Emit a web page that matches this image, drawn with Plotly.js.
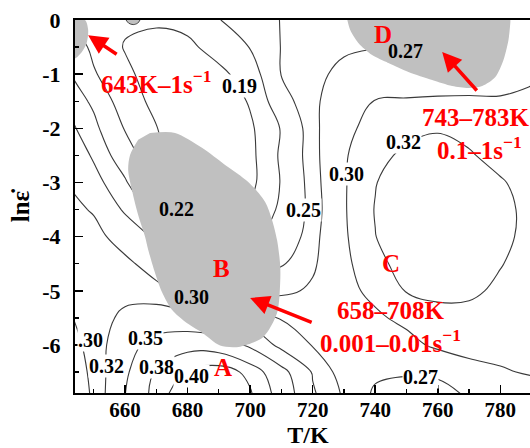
<!DOCTYPE html>
<html><head><meta charset="utf-8">
<script src="https://cdn.plot.ly/plotly-3.0.1.min.js"></script>
<style>html,body{margin:0;padding:0;overflow:hidden;background:#fff}#chart{width:545px;height:448px}</style>
</head><body><div id="chart"></div>
<script>
// ---- data ----
const temps = [640,650,660,670,680,690,700,710,720,730,740,750,760,770,780,790,800];
const lnRates = [0,-0.5,-1,-1.5,-2,-2.5,-3,-3.5,-4,-4.5,-5,-5.5,-6,-6.5,-6.9];
const efficiency = [
 [0.223,0.207,0.195,0.195,0.200,0.219,0.235,0.251,0.255,0.258,0.259,0.260,0.262,0.265,0.269,0.278,0.286],
 [0.248,0.213,0.188,0.178,0.183,0.203,0.221,0.251,0.258,0.266,0.269,0.2698,0.271,0.276,0.283,0.288,0.295],
 [0.260,0.223,0.197,0.175,0.168,0.182,0.205,0.251,0.263,0.277,0.284,0.286,0.287,0.289,0.292,0.297,0.301],
 [0.271,0.245,0.203,0.183,0.168,0.168,0.193,0.240,0.265,0.286,0.301,0.302,0.303,0.303,0.302,0.304,0.306],
 [0.280,0.257,0.218,0.191,0.170,0.165,0.185,0.222,0.263,0.295,0.307,0.313,0.318,0.314,0.309,0.306,0.305],
 [0.292,0.267,0.236,0.197,0.172,0.165,0.182,0.225,0.262,0.298,0.313,0.325,0.329,0.322,0.313,0.308,0.306],
 [0.303,0.278,0.253,0.215,0.183,0.170,0.182,0.222,0.260,0.298,0.319,0.334,0.338,0.334,0.322,0.312,0.307],
 [0.308,0.298,0.266,0.243,0.216,0.200,0.198,0.225,0.258,0.298,0.321,0.336,0.341,0.338,0.326,0.314,0.307],
 [0.312,0.307,0.290,0.265,0.247,0.218,0.216,0.230,0.262,0.297,0.3195,0.335,0.339,0.336,0.325,0.314,0.307],
 [0.312,0.313,0.305,0.290,0.271,0.255,0.245,0.248,0.266,0.295,0.314,0.328,0.334,0.331,0.321,0.312,0.306],
 [0.302,0.310,0.313,0.306,0.293,0.281,0.267,0.264,0.274,0.293,0.306,0.321,0.325,0.324,0.316,0.310,0.306],
 [0.295,0.310,0.325,0.334,0.328,0.315,0.308,0.299,0.290,0.286,0.296,0.306,0.313,0.313,0.310,0.308,0.305],
 [0.290,0.306,0.340,0.360,0.372,0.368,0.345,0.312,0.299,0.286,0.281,0.292,0.305,0.308,0.307,0.306,0.305],
 [0.285,0.304,0.345,0.383,0.402,0.410,0.395,0.360,0.318,0.290,0.276,0.273,0.274,0.292,0.298,0.302,0.303],
 [0.280,0.303,0.3495,0.390,0.415,0.425,0.402,0.370,0.323,0.297,0.265,0.258,0.262,0.273,0.283,0.290,0.295]
];
const levels = [0.19,0.22,0.25,0.27,0.30,0.32,0.35,0.38,0.40];

// instability (grey) domains
const regionA_T = [643,647.2,648.2,647.8,646.2,644.3,643];
const regionA_lnE = [0,0,-0.18,-0.41,-0.59,-0.70,-0.72];
const regionB_T = [668.0,676.0,684.6,692.0,699.4,704.8,707.0,708.6,709.6,709.6,708.6,704.2,696.8,690.4,684.6,679.2,675.0,671.8,669.6,667.4,666.4,664.2,662.2,661.0,661.6,664.2];
const regionB_lnE = [-2.085,-2.085,-2.36,-2.675,-2.99,-3.36,-3.69,-4.06,-4.52,-4.85,-5.41,-5.85,-6.03,-6.01,-5.77,-5.57,-5.35,-5.02,-4.67,-4.24,-4.00,-3.60,-3.14,-2.77,-2.49,-2.21];
const regionD_T = [731.0,732.0,734.6,739.0,744.2,750.6,758.2,764.6,769.8,774.2,778.4,781.0,782.6,783.2,783.2];
const regionD_lnE = [0.02,-0.185,-0.424,-0.646,-0.793,-0.959,-1.107,-1.218,-1.255,-1.218,-1.052,-0.738,-0.369,-0.037,0.02];
const regionTop_T = [660.2,661.2,662.6,664.0,664.9];
const regionTop_lnE = [0.01,-0.06,-0.085,-0.06,0.01];

// contour value labels
const labelText = ['0.19','0.22','0.25','0.27','0.30','0.32','0.30','.30','0.32','0.35','0.38','0.40','0.27'];
const labelT =    [696.5, 676.6, 717.0, 749.6, 730.7, 749.0, 681.4, 648.8, 654.2, 666.4, 670.2, 681.4, 754.4];
const labelLnE =  [-1.22, -3.49, -3.50, -0.57, -2.84, -2.25, -5.11, -5.90, -6.38, -5.87, -6.40, -6.57, -6.59];
const labelBg =   ['#fff','#c0c0c0','#fff','#c0c0c0','#fff','#fff','#c0c0c0','#fff','#fff','#fff','#fff','#fff','#fff'];

// red annotations
const noteText = ['643K\u20131s<sup>\u22121</sup>','D','743\u2013783K','0.1\u20131s<sup>\u22121</sup>','B','C','A','658\u2013708K','0.001\u20130.01s<sup>\u22121</sup>'];
const noteT =    [669.9, 742.6, 772.3, 773.3, 691.0, 745.0, 691.4, 745.1, 744.8];
const noteLnE =  [-1.14, -0.26, -1.80, -2.37, -4.59, -4.50, -6.42, -5.36, -5.93];
const arrowHeadT = [648.2, 761.4, 700.0];
const arrowHeadLnE = [-0.28, -0.59, -5.13];
const arrowTailDx = [30, 36, 63];
const arrowTailDy = [20, 40, 25];

const xTicks = [660,680,700,720,740,760,780];
const xMinor = [650,670,690,710,730,750,770,790];
const yTicks = [0,-1,-2,-3,-4,-5,-6];
const yTickText = ['0','-1','-2','-3','-4','-5','-6'];
const yMinor = [-0.5,-1.5,-2.5,-3.5,-4.5,-5.5,-6.5];

// ---- build ----
const FONT = 'Liberation Serif, Times New Roman, serif';
const GREY = '#c0c0c0';
const traces = [];
function region(xs, ys, outline){
  traces.push({type:'scatter', x:xs, y:ys, mode:'lines', fill:'toself', fillcolor:GREY,
    line:{width: outline?1:0, color: outline?'#444':GREY, shape:'spline', smoothing:0.8},
    hoverinfo:'skip', showlegend:false});
}
region(regionA_T, regionA_lnE, false);
region(regionB_T, regionB_lnE, false);
region(regionD_T, regionD_lnE, false);
region(regionTop_T, regionTop_lnE, true);

levels.forEach(L => {
  traces.push({type:'contour', x:temps, y:lnRates, z:efficiency, autocontour:false,
    contours:{start:L, end:L+0.0001, size:1, coloring:'none', showlabels:false},
    line:{color:'#3a3a3a', width:1.1, smoothing:1.1},
    showscale:false, hoverinfo:'skip'});
});

const annotations = [];
labelText.forEach((t,i) => annotations.push({x:labelT[i], y:labelLnE[i], text:t, showarrow:false,
  font:{family:FONT, size:20, color:'#000', weight:'bold'}, bgcolor:labelBg[i], borderpad:0,
  xanchor:'center', yanchor:'middle'}));
noteText.forEach((t,i) => annotations.push({x:noteT[i], y:noteLnE[i], text:t, showarrow:false,
  font:{family:FONT, size:25, color:'#ff0000', weight:'bold'}, xanchor:'center', yanchor:'middle'}));
arrowHeadT.forEach((t,i) => annotations.push({x:t, y:arrowHeadLnE[i], text:'', showarrow:true,
  ax:arrowTailDx[i], ay:arrowTailDy[i], arrowcolor:'#ff0000', arrowwidth:3.5, arrowhead:2, arrowsize:1.1, standoff:0}));

const layout = {
  width:545, height:448, margin:{l:75, r:4, t:20, b:55},
  paper_bgcolor:'#fff', plot_bgcolor:'#fff', showlegend:false, hovermode:false,
  font:{family:FONT, color:'#000'},
  xaxis:{range:[644,793], tickmode:'array', tickvals:xTicks, ticks:'inside', ticklen:8, tickwidth:1.5,
    tickcolor:'#000', showline:true, linewidth:2, linecolor:'#000', mirror:true, showgrid:false, zeroline:false,
    minor:{tickmode:'array', tickvals:xMinor, ticks:'inside', ticklen:4, tickwidth:1.2, tickcolor:'#000', showgrid:false},
    tickfont:{family:FONT, size:21, color:'#000', weight:'bold'}, ticklabelstandoff:-3,
    title:{text:'T/K', font:{family:FONT, size:24, color:'#000', weight:'bold'}, standoff:11}},
  yaxis:{range:[-6.886,0], tickmode:'array', tickvals:yTicks, ticktext:yTickText, ticks:'inside', ticklen:8, tickwidth:1.5,
    tickcolor:'#000', showline:true, linewidth:2, linecolor:'#000', mirror:false, showgrid:false, zeroline:false,
    minor:{tickmode:'array', tickvals:yMinor, ticks:'inside', ticklen:4, tickwidth:1.2, tickcolor:'#000', showgrid:false},
    tickfont:{family:FONT, size:22, color:'#000', weight:'bold'}, ticklabelstandoff:8,
    title:{text:'ln\u03b5\u0307', font:{family:FONT, size:25, color:'#000', weight:'bold'}, standoff:6}},
  annotations: annotations
};
Plotly.newPlot('chart', traces, layout, {staticPlot:true, displayModeBar:false});
</script></body></html>
